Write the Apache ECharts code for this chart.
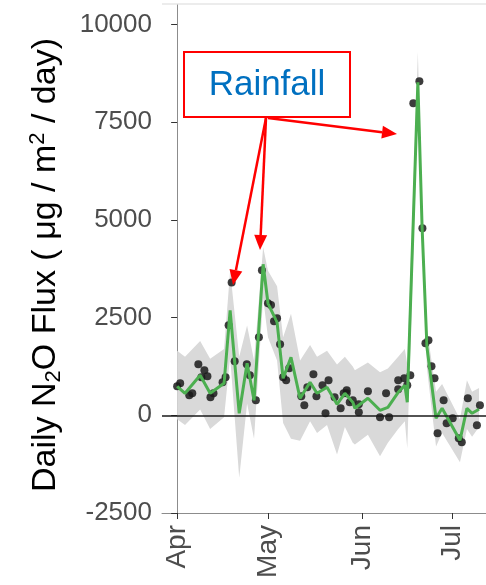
<!DOCTYPE html>
<html>
<head>
<meta charset="utf-8">
<script src="https://cdn.jsdelivr.net/npm/echarts@6/dist/echarts.min.js"></script>
<style>
  html, body { margin: 0; padding: 0; background: #fff; }
  #chart { width: 486px; height: 585px; }
</style>
</head>
<body>
<div id="chart"></div>
<script>
// days counted from Apr 1
const monthTicks = [0, 30, 61, 91];
const monthLabels = ['Apr', 'May', 'Jun', 'Jul'];
const yTicks = [-2500, 0, 2500, 5000, 7500, 10000];

// measured daily flux (dots)
const obsDay = [0, 1, 4, 5, 7, 8, 9, 10, 11, 12, 15, 16, 17, 18, 19, 23, 24, 26, 27, 28,
  30, 31, 32, 33, 34, 35, 36, 37, 41, 42, 43, 45, 46, 48, 49, 50, 52, 54, 55, 56, 56, 57, 58,
  60, 60, 63, 67, 69, 70, 73, 73, 75, 76, 77, 78, 80, 81, 82, 83, 84, 85, 86, 88, 89, 91,
  93, 94, 96, 99, 100];
const obsFlux = [742, 819, 512, 563, 1306, 973, 1152, 998, 461, 563, 845, 973, 2304, 3400, 1382, 1306, 1024, 384, 1997, 3712,
  2867, 2820, 2406, 2483, 1818, 973, 896, 1203, 486, 256, 717, 1050, 486, 768, 51, 896, 461, 179, 563, 563, 640, 333, 384,
  77, 282, 614, -51, 563, -51, 666, 896, 947, 768, 1024, 7987, 8550, 4787, 1843, 1920, 1254, 947, -461, 384, -205, -77,
  -589, -691, 435, -256, 256];

// fitted line and its confidence band
const fitDay = [0, 2.6, 7.6, 10.9, 15.5, 17.5, 20.5, 23.1, 25.4, 28.4, 30, 33, 35, 37.6, 40.6, 43.9, 46.2,
  49.5, 52.8, 55.4, 58, 58.7, 63, 67, 69.6, 73, 75.2, 76, 79.5, 80.9, 82.5, 85.5, 87.5, 93.4, 95.7, 97.4, 99.7];
const fitFlux = [742, 563, 1024, 563, 820, 2688, 50, 1331, 384, 3866, 2867, 2380, 947, 1485, 435, 845, 563,
  717, 282, 563, 333, 180, 435, 128, 205, 589, 768, 333, 8525, 4800, 1741, -77, 179, -640, 179, 51, 154];
const fitLower = [-100, -250, 150, -350, -50, 1500, -1600, 300, -600, 3000, 2000, 1400, -200, -600, -650, -150, -450,
  -250, -1000, -300, -700, -750, -500, -1050, -700, -350, -150, -850, 7900, 4300, 1200, -800, -450, -1200, -350, -550, -300];
const fitUpper = [1650, 1500, 1900, 1450, 1700, 3700, 1500, 2300, 1400, 4300, 3700, 3300, 2000, 2600, 1400, 1800, 1500,
  1650, 1300, 1500, 1250, 1150, 1350, 1100, 1200, 1500, 1700, 1300, 9300, 5300, 2200, 600, 800, -100, 900, 600, 700];

const chart = echarts.init(document.getElementById('chart'));

function arrow(x1, y1, x2, y2) {
  const a = Math.atan2(y2 - y1, x2 - x1);
  const L = 15, W = 6.5;
  const bx = x2 - L * Math.cos(a), by = y2 - L * Math.sin(a);
  return [
    { type: 'line', shape: { x1: x1, y1: y1, x2: bx, y2: by }, style: { stroke: '#ff0000', lineWidth: 2.5 }, z: 100 },
    { type: 'polygon', shape: { points: [[x2, y2],
      [bx + W * Math.sin(a), by - W * Math.cos(a)],
      [bx - W * Math.sin(a), by + W * Math.cos(a)]] }, style: { fill: '#ff0000' }, z: 100 }
  ];
}

const option = {
  animation: false,
  grid: { left: 162, right: 0, top: 5, bottom: 72 },
  xAxis: {
    type: 'value',
    min: -5,
    max: 102,
    splitLine: { show: false },
    axisLine: { onZero: false, lineStyle: { color: '#8c8c8c', width: 1 } },
    axisTick: { customValues: monthTicks, length: 6, lineStyle: { color: '#333' } },
    axisLabel: {
      customValues: monthTicks,
      rotate: 90,
      margin: 12,
      fontSize: 28,
      fontFamily: 'Liberation Sans',
      color: '#4d4d4d',
      formatter: v => monthLabels[monthTicks.indexOf(v)]
    }
  },
  yAxis: {
    type: 'value',
    min: -2500,
    max: 10500,
    splitLine: { show: false },
    axisLine: { show: true, lineStyle: { color: '#8c8c8c', width: 1 } },
    axisTick: { customValues: yTicks, length: 6, lineStyle: { color: '#333' } },
    axisLabel: {
      customValues: yTicks,
      margin: 10,
      fontSize: 26,
      fontFamily: 'Liberation Sans',
      color: '#4d4d4d',
      formatter: v => String(v)
    }
  },
  series: [
    {
      type: 'custom',
      silent: true,
      z: 1,
      data: [[0, 0]],
      renderItem: (params, api) => {
        const pts = [];
        fitDay.forEach((d, i) => pts.push(api.coord([d, fitUpper[i]])));
        for (let i = fitDay.length - 1; i >= 0; i--) pts.push(api.coord([fitDay[i], fitLower[i]]));
        return { type: 'polygon', shape: { points: pts }, style: { fill: '#d9d9d9' } };
      }
    },
    {
      type: 'scatter',
      z: 2,
      symbolSize: 8,
      itemStyle: { color: '#1a1a1a', opacity: 0.85 },
      data: obsDay.map((d, i) => [d, obsFlux[i]])
    },
    {
      type: 'line',
      z: 3,
      showSymbol: false,
      lineStyle: { color: '#4caf50', width: 3 },
      data: fitDay.map((d, i) => [d, fitFlux[i]]),
      markLine: {
        silent: true,
        symbol: 'none',
        label: { show: false },
        lineStyle: { color: '#1a1a1a', width: 1.5, type: 'solid' },
        data: [{ yAxis: 0 }]
      }
    }
  ],
  graphic: [
    { type: 'line', shape: { x1: 162, y1: 4, x2: 486, y2: 4 }, style: { stroke: '#ececec', lineWidth: 2 } },
    {
      type: 'text',
      x: 46, y: 265,
      rotation: Math.PI / 2,
      style: {
        text: 'Daily N{sub|2}O Flux ( μg / m{sup|2} / day)',
        fontSize: 34,
        fontFamily: 'Liberation Sans',
        fill: '#000',
        align: 'center',
        verticalAlign: 'middle',
        rich: {
          sub: { fontSize: 22, fontFamily: 'Liberation Sans', fill: '#000', verticalAlign: 'bottom', padding: [16, 0, 0, 0] },
          sup: { fontSize: 22, fontFamily: 'Liberation Sans', fill: '#000', verticalAlign: 'top', padding: [0, 0, 16, 0] }
        }
      }
    },
    { type: 'rect', shape: { x: 184, y: 52, width: 166, height: 65 }, style: { fill: '#fff', stroke: '#ff0000', lineWidth: 2 }, z: 100 },
    {
      type: 'text', x: 267, y: 85, z: 101,
      style: { text: 'Rainfall', fontSize: 35, fontFamily: 'Liberation Sans', fill: '#0070c0', align: 'center', verticalAlign: 'middle' }
    },
    ...arrow(266, 118, 233, 285),
    ...arrow(266, 118, 260, 250),
    ...arrow(268, 118, 397, 134)
  ]
};
chart.setOption(option);
</script>
</body>
</html>
